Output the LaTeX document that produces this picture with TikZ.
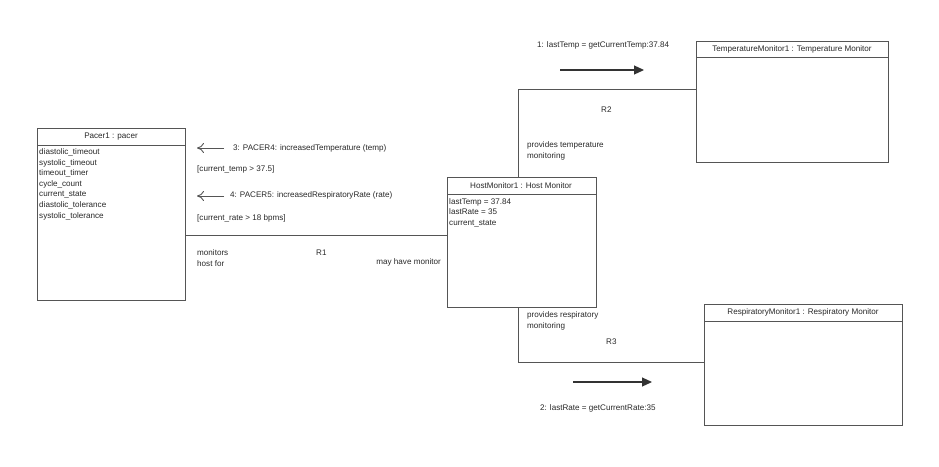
\documentclass[tikz,border=0pt]{standalone}
\usepackage{fontspec}
\setmainfont{Liberation Sans}
\usetikzlibrary{arrows.meta}
\definecolor{ln}{RGB}{85,85,85}
\definecolor{tx}{RGB}{40,40,40}
\tikzset{
  obj/.style={draw=ln, line width=1pt, fill=white},
  conn/.style={draw=ln, line width=1pt},
  lbl/.style={font=\fontsize{8.1}{10.6}\selectfont, text=tx, inner sep=0pt, anchor=west, align=left},
  clbl/.style={font=\fontsize{8.1}{10.6}\selectfont, text=tx, inner sep=0pt},
  msgback/.style={draw=ln, line width=0.9pt, -{To[length=7pt,width=10pt]}},
  msgfwd/.style={draw=black!80, line width=1.1pt, -{Triangle[length=10pt,width=9pt]}}
}
\begin{document}
\begin{tikzpicture}[x=1pt,y=-1pt]
\useasboundingbox (0,0) rectangle (939,466);
% Pacer
\draw[obj] (37,128) rectangle (185,300);
\draw[conn] (37,145) -- (185,145);
\node[clbl] (pacerT) at (111,137) {Pacer1 : pacer};
\node[lbl, anchor=north west, align=left] (pacerA) at (39,148.5) {diastolic\_timeout\\systolic\_timeout\\timeout\_timer\\cycle\_count\\current\_state\\diastolic\_tolerance\\systolic\_tolerance};
\coordinate (pacerR) at (185,235);
% Host monitor
\draw[obj] (447,177) rectangle (596,307);
\draw[conn] (447,194) -- (596,194);
\node[clbl] (hostT) at (521,186) {HostMonitor1 : Host Monitor};
\node[lbl, anchor=north west] (hostA) at (449,198) {lastTemp = 37.84\\lastRate = 35\\current\_state};
\coordinate (hostL) at (447,235);
\coordinate (hostTop) at (518,177);
\coordinate (hostBot) at (518,307);
% Temperature monitor
\draw[obj] (696,41) rectangle (888,162);
\draw[conn] (696,57) -- (888,57);
\node[clbl] (tempT) at (792,49.5) {TemperatureMonitor1 : Temperature Monitor};
\coordinate (tempL) at (696,89);
% Respiratory monitor
\draw[obj] (704,304) rectangle (902,425);
\draw[conn] (704,321) -- (902,321);
\node[clbl] (respT) at (803,312.5) {RespiratoryMonitor1 : Respiratory Monitor};
\coordinate (respL) at (704,362);
% Connectors
\draw[conn] (pacerR) -- (hostL);
\draw[conn] (hostTop) |- (tempL);
\draw[conn] (hostBot) |- (respL);
% Labels R1
\node[lbl] (mon) at (197,258) {monitors\\host for};
\node[lbl] (r1) at (316,253) {R1};
\node[lbl, anchor=east] (may) at (441,262) {may have monitor};
% messages left
\coordinate (m3a) at (224,148);
\coordinate (m3b) at (197,148);
\draw[msgback] (m3a) -- (m3b);
\node[lbl] (m3) at (233,148) {3: PACER4: increasedTemperature (temp)};
\node[lbl] (g3) at (197,169) {[current\_temp > 37.5]};
\coordinate (m4a) at (224,196);
\coordinate (m4b) at (197,196);
\draw[msgback] (m4a) -- (m4b);
\node[lbl] (m4) at (230,195) {4: PACER5: increasedRespiratoryRate (rate)};
\node[lbl] (g4) at (197,218) {[current\_rate > 18 bpms]};
% R2
\node[lbl] (r2) at (601,110) {R2};
\node[lbl] (pt) at (527,151) {provides temperature\\monitoring};
\coordinate (m1a) at (560,70);
\coordinate (m1b) at (644,70);
\draw[msgfwd] (m1a) -- (m1b);
\node[lbl] (m1) at (537,45) {1: lastTemp = getCurrentTemp:37.84};
% R3
\node[lbl] (r3) at (606,342) {R3};
\node[lbl] (pr) at (527,321) {provides respiratory\\monitoring};
\coordinate (m2a) at (573,382);
\coordinate (m2b) at (652,382);
\draw[msgfwd] (m2a) -- (m2b);
\node[lbl] (m2) at (540,408) {2: lastRate = getCurrentRate:35};
\end{tikzpicture}
\end{document}
